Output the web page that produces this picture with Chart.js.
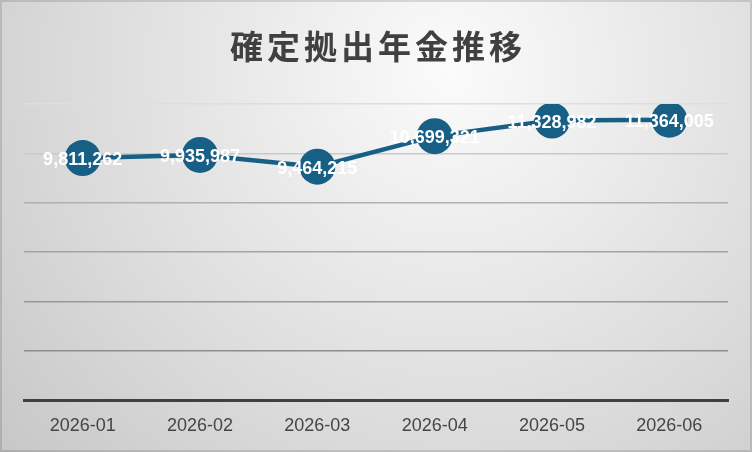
<!DOCTYPE html>
<html>
<head>
<meta charset="utf-8">
<script src="https://cdn.jsdelivr.net/npm/chart.js@4"></script>
<style>
  html, body { margin: 0; padding: 0; background: #d4d4d4; }
  #wrap { width: 752px; height: 452px; }
</style>
</head>
<body>
<div id="wrap"><canvas id="pensionChart" width="752" height="452"></canvas></div>
<script>
// データ
const chartTitle = "確定拠出年金推移";
const months = ["2026-01", "2026-02", "2026-03", "2026-04", "2026-05", "2026-06"];
const balances = [9811262, 9935987, 9464215, 10699321, 11328982, 11364005];

// グリッド線の色（下ほど濃い）
const gridColors = {
  2000000: "#8e8e8e",
  4000000: "#999999",
  6000000: "#a4a4a4",
  8000000: "#b0b0b0",
  10000000: "#c9c9c9",
  12000000: "#dedede",
};

// 背景のグラデーション
const bgPlugin = {
  id: "bgGradient",
  beforeDraw(chart) {
    const { ctx, width, height } = chart;
    const g = ctx.createRadialGradient(450, 70, 0, 450, 70, 720);
    g.addColorStop(0, "#fbfbfb");
    g.addColorStop(0.55, "#d9d9d9");
    g.addColorStop(1, "#bbbbbb");
    ctx.save();
    ctx.fillStyle = g;
    ctx.fillRect(0, 0, width, height);
    ctx.strokeStyle = "rgba(0,0,0,0.12)";
    ctx.lineWidth = 2;
    ctx.strokeRect(1, 1, width - 2, height - 2);
    ctx.restore();
  },
};

// タイトル（文字間隔つき）
const titlePlugin = {
  id: "spacedTitle",
  afterDraw(chart) {
    const ctx = chart.ctx;
    ctx.save();
    ctx.font = "bold 33px 'Noto Sans CJK JP'";
    ctx.fillStyle = "#404040";
    ctx.textAlign = "center";
    ctx.textBaseline = "middle";
    ctx.letterSpacing = "4px";
    ctx.fillText(chartTitle, 376 + 2, 46);
    ctx.restore();
  },
};

// データラベル
const labelPlugin = {
  id: "valueLabels",
  afterDatasetsDraw(chart) {
    const ctx = chart.ctx;
    const meta = chart.getDatasetMeta(0);
    ctx.save();
    ctx.font = "bold 18px 'Liberation Sans', Arial, sans-serif";
    ctx.fillStyle = "#ffffff";
    ctx.textAlign = "center";
    ctx.textBaseline = "middle";
    meta.data.forEach((pt, i) => {
      ctx.fillText(balances[i].toLocaleString("en-US"), pt.x, pt.y + 2);
    });
    ctx.restore();
  },
};

const ctx = document.getElementById("pensionChart").getContext("2d");

const pensionChart = new Chart(ctx, {
  type: "line",
  data: {
    labels: months,
    datasets: [
      {
        label: "残高",
        data: balances,
        borderColor: "#175f85",
        backgroundColor: "#175f85",
        borderWidth: 4.5,
        pointRadius: 18,
        pointHoverRadius: 18,
        pointBorderWidth: 0,
        tension: 0,
      },
    ],
  },
  options: {
    responsive: false,
    animation: false,
    layout: {
      padding: { top: 104, left: 24, right: 24, bottom: 0 },
    },
    plugins: {
      legend: { display: false },
      title: { display: false },
      tooltip: { enabled: false },
    },
    scales: {
      x: {
        offset: true,
        grid: { display: true, drawOnChartArea: false, drawTicks: false },
        border: { display: true, color: "#404040", width: 3 },
        ticks: {
          color: "#454545",
          padding: 15,
          maxRotation: 0,
          font: { family: "'Liberation Sans', Arial, sans-serif", size: 18 },
        },
      },
      y: {
        min: 0,
        max: 12000000,
        ticks: { display: false, stepSize: 2000000 },
        border: { display: false },
        grid: {
          drawTicks: false,
          lineWidth: 1.5,
          color: (c) => gridColors[c.tick.value] || "rgba(0,0,0,0)",
        },
      },
    },
  },
  plugins: [bgPlugin, titlePlugin, labelPlugin],
});
</script>
</body>
</html>
